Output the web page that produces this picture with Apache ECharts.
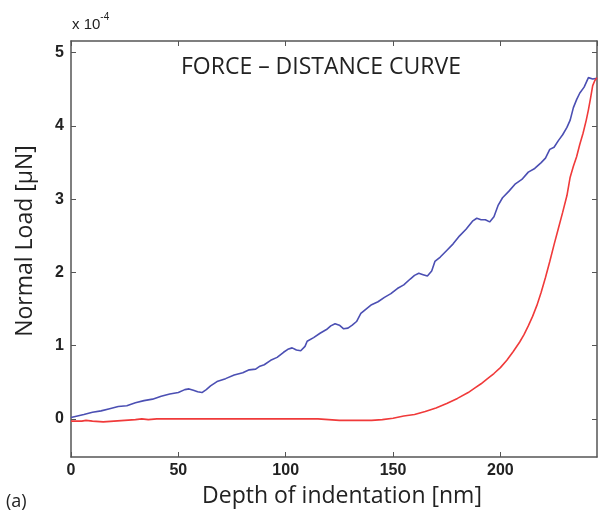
<!DOCTYPE html>
<html>
<head>
<meta charset="utf-8">
<script src="https://cdn.jsdelivr.net/npm/echarts@6/dist/echarts.min.js"></script>
<style>
  html, body { margin: 0; padding: 0; background: #fff; }
  #chart { width: 598px; height: 513px; }
</style>
</head>
<body>
<div id="chart"></div>
<script>
// depth [nm] and load [x 1e-4 uN], loading curve (blue)
const loadDepth = [0, 3, 6, 10, 14, 18, 22, 26, 30, 34, 38, 42, 46, 50, 53, 55, 57, 59, 61, 63,
  65, 68, 72, 76, 80, 83, 86, 88, 90, 93, 96, 99, 101, 103, 105, 107, 109, 110, 113, 116,
  119, 121, 123, 125, 127, 129, 131, 133, 135, 137, 140, 143, 146, 149, 152, 155, 158, 160, 162, 164,
  166, 168, 169.5, 172, 175, 178, 181, 184, 187, 189, 191, 193, 195, 197, 199, 201, 204, 207, 210, 213,
  216, 219, 221, 223, 225, 227, 229, 231, 232.5, 234, 235.5, 237, 239, 241, 243, 245];
const loadForce = [0.02, 0.04, 0.06, 0.09, 0.11, 0.14, 0.17, 0.18, 0.22, 0.25, 0.27, 0.31, 0.34, 0.36, 0.40, 0.41, 0.39, 0.37, 0.36, 0.40,
  0.45, 0.51, 0.55, 0.60, 0.63, 0.67, 0.68, 0.72, 0.74, 0.80, 0.84, 0.91, 0.95, 0.97, 0.94, 0.93, 0.99, 1.06, 1.11, 1.17,
  1.22, 1.27, 1.30, 1.28, 1.23, 1.24, 1.28, 1.33, 1.44, 1.49, 1.56, 1.60, 1.66, 1.71, 1.78, 1.83, 1.91, 1.96, 1.99, 1.97,
  1.95, 2.02, 2.15, 2.21, 2.30, 2.39, 2.50, 2.59, 2.70, 2.74, 2.72, 2.72, 2.69, 2.76, 2.92, 3.02, 3.11, 3.21, 3.27, 3.37,
  3.42, 3.50, 3.56, 3.68, 3.71, 3.80, 3.88, 3.98, 4.08, 4.25, 4.36, 4.45, 4.53, 4.66, 4.64, 4.65];

// unloading curve (red)
const unloadDepth = [0, 5, 7, 10, 15, 20, 25, 30, 33, 36, 40, 50, 60, 70, 80, 90, 100, 110, 115, 120,
  125, 130, 135, 140, 145, 150, 155, 160, 165, 170, 175, 180, 185, 188, 191, 194, 197, 200, 203, 206,
  209, 211, 213, 215, 217, 219, 221, 223, 225, 227, 229, 231, 232.5, 234, 235.5, 237, 238.5, 240, 241, 242,
  243, 244, 245];
const unloadForce = [-0.03, -0.03, -0.02, -0.03, -0.04, -0.03, -0.02, -0.01, 0.00, -0.01, 0.00, 0.00, 0.00, 0.00, 0.00, 0.00, 0.00, 0.00, 0.00, -0.01,
  -0.02, -0.02, -0.02, -0.02, -0.01, 0.01, 0.04, 0.06, 0.10, 0.15, 0.21, 0.28, 0.36, 0.42, 0.48, 0.55, 0.62, 0.70, 0.80, 0.92,
  1.05, 1.15, 1.27, 1.40, 1.55, 1.73, 1.93, 2.15, 2.38, 2.60, 2.82, 3.05, 3.30, 3.45, 3.58, 3.75, 3.90, 4.08, 4.22, 4.38,
  4.55, 4.62, 4.66];

const yTicks = [0, 1, 2, 3, 4, 5];

const chart = echarts.init(document.getElementById('chart'));

const frame = { show: true, onZero: false, lineStyle: { color: '#555', width: 1.5 } };
const tick = { inside: true, length: 5, lineStyle: { color: '#555' } };
const tickLabel = { color: '#222', fontFamily: 'Liberation Sans', fontWeight: 'bold', fontSize: 16 };

chart.setOption({
  animation: false,
  grid: { left: 71, right: 1, top: 41, bottom: 56, containLabel: false },
  xAxis: [
    {
      type: 'value', min: 0, max: 245, interval: 50,
      axisLine: frame,
      axisTick: tick,
      axisLabel: Object.assign({ margin: 6, showMaxLabel: false }, tickLabel),
      splitLine: { show: false },
      name: 'Depth of indentation [nm]', nameLocation: 'middle', nameGap: 28,
      nameTextStyle: { fontFamily: 'Open Sans', fontSize: 23, color: '#222', padding: [0, 0, 0, 16] }
    },
    {
      type: 'value', min: 0, max: 245, interval: 50, position: 'top',
      axisLine: frame,
      axisTick: tick,
      axisLabel: { show: false },
      splitLine: { show: false }
    }
  ],
  yAxis: [
    {
      type: 'value', min: -0.52, max: 5.16,
      axisLine: frame,
      axisTick: Object.assign({ customValues: yTicks }, tick),
      axisLabel: Object.assign({ margin: 7, customValues: yTicks }, tickLabel),
      splitLine: { show: false },
      name: 'Normal Load [\u03bcN]', nameLocation: 'middle', nameGap: 34,
      nameTextStyle: { fontFamily: 'Open Sans', fontSize: 23, color: '#222', padding: [0, 0, 0, 16] }
    },
    {
      type: 'value', min: -0.52, max: 5.16, position: 'right',
      axisLine: frame,
      axisTick: Object.assign({ customValues: yTicks }, tick),
      axisLabel: { show: false },
      splitLine: { show: false }
    }
  ],
  series: [
    {
      name: 'Loading', type: 'line', showSymbol: false,
      data: loadDepth.map((d, i) => [d, loadForce[i]]),
      lineStyle: { color: '#4b4fb3', width: 1.6 }
    },
    {
      name: 'Unloading', type: 'line', showSymbol: false,
      data: unloadDepth.map((d, i) => [d, unloadForce[i]]),
      lineStyle: { color: '#f03a3a', width: 1.6 }
    }
  ],
  graphic: [
    {
      type: 'text', x: 321, y: 67,
      style: { text: 'FORCE \u2013 DISTANCE CURVE', fontFamily: 'Open Sans', fontSize: 23, fill: '#222',
        align: 'center', verticalAlign: 'middle' }
    },
    {
      type: 'text', left: 72, top: 12,
      style: {
        text: '{a|x 10}{b|-4}',
        rich: {
          a: { fontFamily: 'Liberation Sans', fontSize: 15, fill: '#222', verticalAlign: 'bottom' },
          b: { fontFamily: 'Liberation Sans', fontSize: 10, fill: '#222', padding: [0, 0, 10, 0] }
        }
      }
    },
    {
      type: 'text', left: 6, top: 493,
      style: { text: '(a)', fontFamily: 'Open Sans', fontSize: 18, fill: '#222' }
    }
  ]
});
</script>
</body>
</html>
